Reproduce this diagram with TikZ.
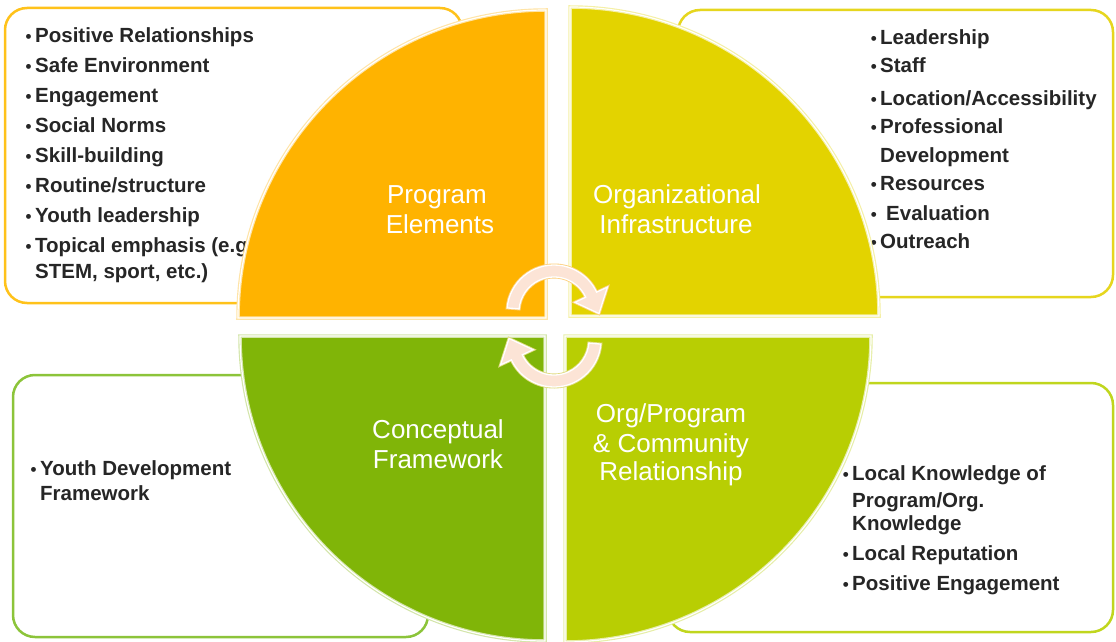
\documentclass[tikz,border=0pt]{standalone}
\usepackage{fontspec}
\setmainfont{Liberation Sans}
\definecolor{qorange}{HTML}{FFB300}
\definecolor{qyellow}{HTML}{E3D300}
\definecolor{qgreen}{HTML}{80B508}
\definecolor{qlime}{HTML}{B8CE03}
\definecolor{borange}{HTML}{FFC21A}
\definecolor{byellow}{HTML}{E6D61E}
\definecolor{bgreen}{HTML}{8CC43A}
\definecolor{blime}{HTML}{C0D61E}
\definecolor{arrfill}{HTML}{FCE4D6}
\begin{document}
\begin{tikzpicture}[x=1pt,y=-1pt,
  tbox/.style={fill=white, line width=2.5pt, rounded corners=22pt},
  bul/.style={anchor=base west, inner sep=0pt, font=\bfseries\fontsize{20.5}{24}\selectfont, text=black!85},
  qlab/.style={anchor=base, inner sep=0pt, font=\fontsize{26}{30}\selectfont, text=white},
  quad/.style={line width=3.5pt},
  qline/.style={draw=white, line width=1.2pt}]
\useasboundingbox (0,0) rectangle (1116,642);
% text boxes
\draw[tbox, draw=borange] (5,8) rectangle (462,303);
\draw[tbox, draw=byellow] (678,10) rectangle (1113,297);
\draw[tbox, draw=bgreen] (13,375) rectangle (428,637);
\draw[tbox, draw=blime] (668,383) rectangle (1113,632);
% bullet texts
\newcommand{\bu}{\llap{{\fontsize{17}{20}\selectfont\textbullet}\kern3.5pt}}
\node[bul] (tl1) at (35,43) {\bu Positive Relationships};
\node[bul] (tl2) at (35,72) {\bu Safe Environment};
\node[bul] (tl3) at (35,102) {\bu Engagement};
\node[bul] (tl4) at (35,132) {\bu Social Norms};
\node[bul] (tl5) at (35,162) {\bu Skill-building};
\node[bul] (tl6) at (35,192) {\bu Routine/structure};
\node[bul] (tl7) at (35,222) {\bu Youth leadership};
\node[bul] (tl8) at (35,252) {\bu Topical emphasis (e.g.,};
\node[bul] (tl9) at (35,278) {STEM, sport, etc.)};
\node[bul] (tr1) at (880,45) {\bu Leadership};
\node[bul] (tr2) at (880,73) {\bu Staff};
\node[bul] (tr3) at (880,105) {\bu Location/Accessibility};
\node[bul] (tr4) at (880,133) {\bu Professional};
\node[bul] (tr5) at (880,162) {Development};
\node[bul] (tr6) at (880,190) {\bu Resources};
\node[bul] (tr7) at (880,220) {\bu\kern6pt Evaluation};
\node[bul] (tr8) at (880,248) {\bu Outreach};
\node[bul] (bl1) at (40,475) {\bu Youth Development};
\node[bul] (bl2) at (40,500) {Framework};
\node[bul] (br1) at (852,480) {\bu Local Knowledge of};
\node[bul] (br2) at (852,507) {Program/Org.};
\node[bul] (br3) at (852,530) {Knowledge};
\node[bul] (br4) at (852,560) {\bu Local Reputation};
\node[bul] (br5) at (852,590) {\bu Positive Engagement};
% quadrants
\path[quad, fill=qorange, draw=qorange!35] (546,318) -- (238,318) arc[start angle=180, end angle=270, radius=308] -- cycle;
\path[qline] (546,318) -- (238,318) arc[start angle=180, end angle=270, radius=308] -- cycle;
\path[quad, fill=qyellow, draw=qyellow!35] (570,316) -- (570,7) arc[start angle=270, end angle=360, radius=309] -- cycle;
\path[qline] (570,316) -- (570,7) arc[start angle=270, end angle=360, radius=309] -- cycle;
\path[quad, fill=qgreen, draw=qgreen!35] (545,336) -- (240,336) arc[start angle=180, end angle=90, radius=305] -- cycle;
\path[qline] (545,336) -- (240,336) arc[start angle=180, end angle=90, radius=305] -- cycle;
\path[quad, fill=qlime, draw=qlime!35] (565,336) -- (871,336) arc[start angle=0, end angle=90, radius=306] -- cycle;
\path[qline] (565,336) -- (871,336) arc[start angle=0, end angle=90, radius=306] -- cycle;
% quadrant labels
\node[qlab] (q1a) at (437,203) {Program};
\node[qlab] (q1b) at (440,233) {Elements};
\node[qlab] (q2a) at (677,203) {Organizational};
\node[qlab] (q2b) at (676,233) {Infrastructure};
\node[qlab] (q3a) at (438,438) {Conceptual};
\node[qlab] (q3b) at (438,468) {Framework};
\node[qlab] (q4a) at (671,422) {Org/Program};
\node[qlab] (q4b) at (671,452) {\& Community};
\node[qlab] (q4c) at (671,480) {Relationship};
% cycle arrows
\newcommand{\cyclearrow}{(185:47) arc[start angle=185, end angle=335, radius=47] -- (335:59) -- (362:45) -- (335:23) -- (335:35) arc[start angle=335, end angle=185, radius=35] -- cycle}
\begin{scope}[shift={(554,312)}]
\path[draw=arrfill!60!qorange, line width=3pt] \cyclearrow;
\path[fill=arrfill, draw=white, line width=1.3pt] \cyclearrow;
\end{scope}
\begin{scope}[shift={(554,340)}, rotate=180]
\path[draw=arrfill!60!qlime, line width=3pt] \cyclearrow;
\path[fill=arrfill, draw=white, line width=1.3pt] \cyclearrow;
\end{scope}
\end{tikzpicture}
\end{document}
